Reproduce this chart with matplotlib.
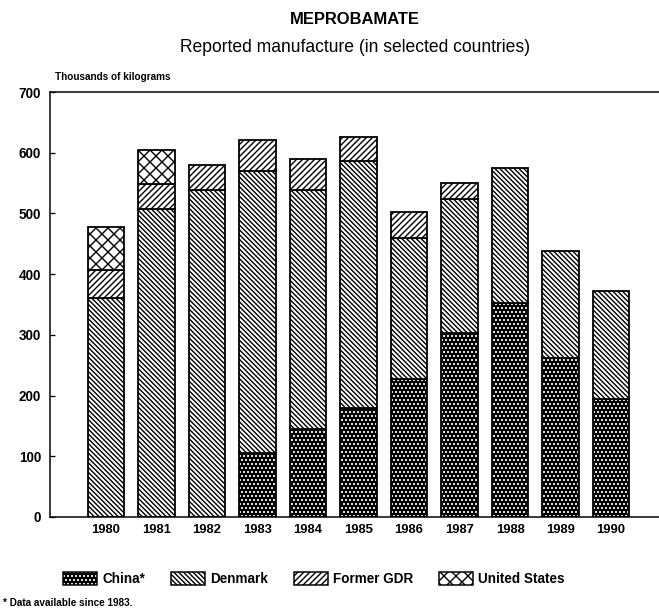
import numpy as np
import matplotlib
matplotlib.use("Agg")
import matplotlib.pyplot as plt
from matplotlib.patches import Patch

plt.rcParams["font.family"] = ["Liberation Sans", "DejaVu Sans"]
plt.rcParams["hatch.linewidth"] = 1.4

years = ["1980", "1981", "1982", "1983", "1984", "1985",
         "1986", "1987", "1988", "1989", "1990"]
china = [0, 0, 0, 105, 145, 180, 227, 303, 352, 262, 194]
denmark = [360, 507, 539, 465, 394, 406, 233, 221, 223, 176, 178]
gdr = [47, 42, 41, 51, 51, 40, 42, 26, 0, 0, 0]
usa = [70, 56, 0, 0, 0, 0, 0, 0, 0, 0, 0]

x = np.arange(len(years))
china = np.array(china)
denmark = np.array(denmark)
gdr = np.array(gdr)
usa = np.array(usa)

H_CHINA = "..."
H_DEN = "\\" * 5
H_GDR = "/" * 4
H_US = "xx"

fig = plt.figure(figsize=(659 / 72, 610 / 72), dpi=72)
ax = fig.add_axes([50 / 659, 1 - 517 / 610, 1 - 50 / 659, 425 / 610])

w = 0.73
lw = 1.8
# China: black with small white dots, outline drawn on top
cm = china > 0
ax.bar(x[cm], china[cm], w, color="black", edgecolor="white",
       hatch=H_CHINA, linewidth=0)
ax.bar(x[cm], china[cm], w, fill=False, edgecolor="black", linewidth=lw)
ax.bar(x, denmark, w, bottom=china, color="white", edgecolor="black",
       hatch=H_DEN, linewidth=lw)
b2 = china + denmark
ax.bar(x[gdr > 0], gdr[gdr > 0], w, bottom=b2[gdr > 0], color="white",
       edgecolor="black", hatch=H_GDR, linewidth=lw)
b3 = b2 + gdr
ax.bar(x[usa > 0], usa[usa > 0], w, bottom=b3[usa > 0], color="white",
       edgecolor="black", hatch=H_US, linewidth=lw)

ax.set_xlim(-1.11, 10.95)
ax.set_ylim(0, 700)
ax.set_yticks(range(0, 701, 100))
ax.set_xticks(x)
ax.set_xticklabels(years, fontsize=13, fontweight="bold")
for t in ax.get_yticklabels():
    t.set_fontsize(13.5)
    t.set_fontweight("bold")
ax.tick_params(axis="x", length=0, pad=7)
ax.tick_params(axis="y", direction="in", length=5, width=1.3, pad=9)
ax.spines["right"].set_visible(False)
for s in ["left", "top", "bottom"]:
    ax.spines[s].set_linewidth(1.5)

fig.text(355 / 659, 1 - 20 / 610, "MEPROBAMATE", ha="center", va="center",
         fontsize=16.5, fontweight="bold")
fig.text(355 / 659, 1 - 48 / 610, "Reported manufacture (in selected countries)",
         ha="center", va="center", fontsize=17.5)
fig.text(55 / 659, 1 - 77 / 610, "Thousands of kilograms", ha="left",
         va="center", fontsize=10, fontweight="bold")
fig.text(3 / 659, 1 - 603 / 610, "* Data available since 1983.", ha="left",
         va="center", fontsize=10, fontweight="bold")

h_china = (Patch(facecolor="black", edgecolor="white", hatch=H_CHINA, linewidth=0),
           Patch(fill=False, edgecolor="black", linewidth=1.5))
h_den = Patch(facecolor="white", edgecolor="black", hatch=H_DEN, linewidth=1.5)
h_gdr = Patch(facecolor="white", edgecolor="black", hatch=H_GDR, linewidth=1.5)
h_us = Patch(facecolor="white", edgecolor="black", hatch=H_US, linewidth=1.5)
leg = fig.legend([h_china, h_den, h_gdr, h_us],
                 ["China*", "Denmark", "Former GDR", "United States"],
                 loc="center", bbox_to_anchor=(314 / 659, 1 - 579 / 610),
                 ncol=4, frameon=False, handlelength=2.5, handleheight=1.1,
                 columnspacing=1.9, handletextpad=0.4,
                 prop={"size": 13.5, "weight": "bold"})

fig.savefig("out.png", dpi=72)
